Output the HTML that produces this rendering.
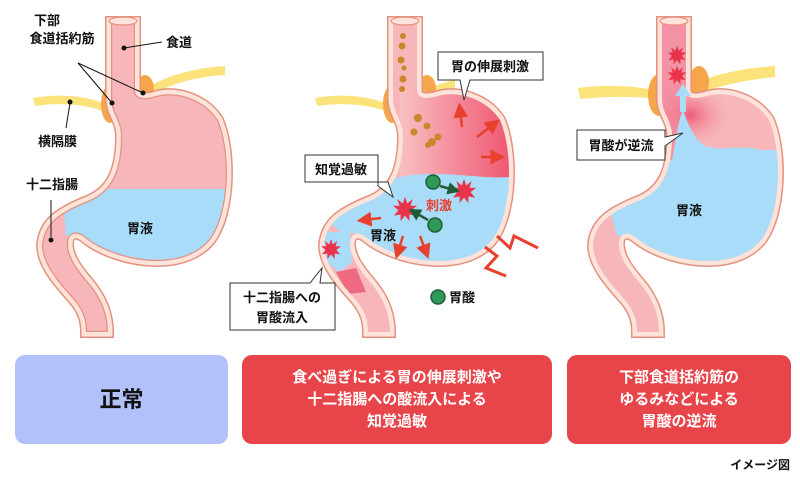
<!DOCTYPE html>
<html><head><meta charset="utf-8"><style>
html,body{margin:0;padding:0;background:#fff;}
body{width:800px;height:480px;overflow:hidden;position:relative;font-family:"Liberation Sans","Noto Sans CJK JP",sans-serif;}
svg text{font-family:"Liberation Sans","Noto Sans CJK JP",sans-serif;font-weight:bold;}
.box{position:absolute;border-radius:10px;color:#fff;font-weight:bold;text-align:center;display:flex;align-items:center;justify-content:center;font-size:15px;line-height:22px;}
</style></head><body>
<svg width="800" height="480" viewBox="0 0 800 480" style="position:absolute;left:0;top:0">
<defs>
<path id="st" d="M111,22 L111,98 C111,114 121,120 121,136 C121,170 112,190 90,200 C60,212 44,222 42,245 C42,266 62,286 74,300 C84,312 86,322 86,332 L108,332 C108,312 100,296 88,282 C76,268 68,256 68,244 C68,233 76,231 84,237 C114,262 182,274 210,240 C231,212 231,150 218,120 C205,100 178,90 156,96 C146,99 135,100 135,90 L135,22 Z"/>
<clipPath id="c1"><use href="#st"/></clipPath>
<clipPath id="c2"><use href="#st" transform="translate(282,0)"/></clipPath>
<clipPath id="c3"><use href="#st" transform="translate(551,0)"/></clipPath>
<linearGradient id="rg" x1="0" x2="1" y1="0" y2="0"><stop offset="0" stop-color="#f9c0c2"/><stop offset="1" stop-color="#ee4d6a"/></linearGradient>
<radialGradient id="rg3" cx="0.5" cy="0.5" r="0.5"><stop offset="0" stop-color="#ef5a78"/><stop offset="1" stop-color="#f7b7ba" stop-opacity="0"/></radialGradient>
<g id="burst"><polygon points="0,-11 2,-5 7,-9 5,-3 11,-3 6,1 10,6 4,5 4,11 0,6 -4,11 -4,5 -10,6 -6,1 -11,-3 -5,-3 -7,-9 -2,-5" fill="#e8334a"/><circle r="5" fill="#e8334a"/></g>
<marker id="ar" markerWidth="6" markerHeight="6" refX="3" refY="3" orient="auto" markerUnits="strokeWidth"><path d="M0,0 L6,3 L0,6 Z" fill="#e8402f"/></marker>
<marker id="ag" markerWidth="5" markerHeight="5" refX="2.5" refY="2.5" orient="auto" markerUnits="strokeWidth"><path d="M0,0 L5,2.5 L0,5 Z" fill="#1f5e34"/></marker>
</defs>

<!-- PANEL 1 -->
<g>
<path d="M33,98 C60,93 90,96 110,106 L110,114 C90,104 60,102 35,106 Z" fill="#fbe27a"/>
<path d="M140,92 C165,75 195,68 225,66 L225,75 C195,77 165,84 146,100 Z" fill="#fbe27a"/>
<ellipse cx="110" cy="104" rx="9" ry="19" fill="#f6a64a"/>
<ellipse cx="145" cy="89" rx="9" ry="14" fill="#f6a64a"/>
<use href="#st" fill="none" stroke="#e4917f" stroke-width="12"/>
<use href="#st" fill="none" stroke="#fde3d9" stroke-width="9"/>
<use href="#st" fill="#f7b7ba"/>
<g clip-path="url(#c1)"><path d="M62,189 H240 V290 H110 L80,234 L66,236 Z" fill="#a9dcf8"/></g>
<use href="#st" fill="none" stroke="#e4917f" stroke-width="2.4" clip-path="url(#c1)"/>
<ellipse cx="123" cy="21" rx="14" ry="4" fill="#fde3d9" stroke="#e4917f" stroke-width="1.2"/>
<g fill="#111" font-size="13">
<text x="47" y="25" text-anchor="middle">下部</text>
<text x="62" y="43" text-anchor="middle">食道括約筋</text>
<text x="166" y="47">食道</text>
<text x="38" y="146">横隔膜</text>
<text x="26" y="189">十二指腸</text>
<text x="127" y="233">胃液</text>
</g>
<g stroke="#111" stroke-width="1"><line x1="78" y1="63" x2="112" y2="103"/><line x1="78" y1="63" x2="143" y2="93"/><line x1="124" y1="48" x2="162" y2="42"/><line x1="70" y1="103" x2="66" y2="128"/><line x1="51" y1="200" x2="51" y2="237"/></g>
<g fill="#111"><circle cx="112" cy="103" r="2.5"/><circle cx="143" cy="93" r="2.5"/><circle cx="124" cy="48" r="2.5"/><circle cx="70" cy="102" r="2.5"/><circle cx="51" cy="240" r="2.5"/></g>
</g>

<!-- PANEL 2 -->
<g>
<path d="M315,98 C342,93 372,96 392,106 L392,114 C372,104 342,102 317,106 Z" fill="#fbe27a"/>
<path d="M422,92 C435,85 445,82 455,80 L455,89 C445,91 435,94 428,100 Z" fill="#fbe27a"/>
<ellipse cx="392" cy="104" rx="9" ry="19" fill="#f6a64a"/>
<ellipse cx="427" cy="89" rx="9" ry="14" fill="#f6a64a"/>
<use href="#st" transform="translate(282,0)" fill="none" stroke="#e4917f" stroke-width="12"/>
<use href="#st" transform="translate(282,0)" fill="none" stroke="#fde3d9" stroke-width="9"/>
<use href="#st" transform="translate(282,0)" fill="#f7b7ba"/>
<g clip-path="url(#c2)">
<rect x="400" y="90" width="120" height="100" fill="url(#rg)"/>
<path d="M344,200 C370,185 395,174 430,174 C470,174 490,180 520,176 L520,290 L392,290 L362,234 L340,232 L322,215 Z" fill="#a9dcf8"/>
<path d="M320,232 L350,232 L352,262 L340,272 L326,262 Z" fill="#a9dcf8"/>
<path d="M336,272 L356,268 L366,292 L348,294 Z" fill="#ee6a80"/>
</g>
<use href="#st" transform="translate(282,0)" fill="none" stroke="#e4917f" stroke-width="2.4" clip-path="url(#c2)"/>
<ellipse cx="405" cy="21" rx="14" ry="4" fill="#fde3d9" stroke="#e4917f" stroke-width="1.2"/>
<g fill="#c8872a"><circle cx="403" cy="36" r="3"/><circle cx="402" cy="46" r="3.5"/><circle cx="401" cy="60" r="3.5"/><circle cx="404" cy="68" r="2.5"/><circle cx="403" cy="79" r="3.5"/><circle cx="402" cy="89" r="3"/><circle cx="418" cy="118" r="4"/><circle cx="427" cy="126" r="3.5"/><circle cx="414" cy="132" r="3.5"/><circle cx="432" cy="142" r="4"/><circle cx="438" cy="137" r="3.5"/><circle cx="428" cy="145" r="3"/></g>
<g stroke="#e8402f" stroke-width="2.5" fill="none" marker-end="url(#ar)">
<line x1="462" y1="127" x2="460" y2="110"/><line x1="477" y1="137" x2="494" y2="124"/><line x1="481" y1="157" x2="498" y2="157"/>
<line x1="381" y1="218" x2="364" y2="220"/><line x1="403" y1="236" x2="398" y2="252"/><line x1="420" y1="236" x2="426" y2="252"/>
</g>
<use href="#burst" transform="translate(405,209) scale(1.1)"/>
<use href="#burst" transform="translate(464,191) scale(1.1)"/>
<use href="#burst" transform="translate(331,249) scale(0.9)"/>
<g stroke="#1f5e34" stroke-width="2.5" marker-end="url(#ag)"><line x1="440" y1="186" x2="454" y2="190"/><line x1="428" y1="220" x2="414" y2="212"/></g>
<g fill="#2e9a58" stroke="#1f5e34" stroke-width="1.5"><circle cx="433" cy="182" r="7"/><circle cx="435" cy="225" r="7"/><circle cx="438" cy="297" r="7"/></g>
<text x="426" y="210" font-size="13" fill="#e8402f">刺激</text>
<text x="370" y="240" font-size="13" fill="#111">胃液</text>
<text x="449" y="302" font-size="13" fill="#111">胃酸</text>
<polyline points="497,236 510,248 514,236 538,248" fill="none" stroke="#e8402f" stroke-width="3"/>
<polyline points="485,247 497,256 486,268 506,276" fill="none" stroke="#e8402f" stroke-width="3"/>
<g fill="#fff" stroke="#333" stroke-width="1">
<path d="M438,52 H543 V80 H470 L464,100 L460,80 H438 Z"/>
<path d="M305,155 H378 V182 H388 L393,197 L378,186 V182 H305 Z"/>
<path d="M230,283 H310 L322,268 L320,283 H335 V330 H230 Z"/>
</g>
<g fill="#111" font-size="13">
<text x="490" y="71" text-anchor="middle">胃の伸展刺激</text>
<text x="341" y="174" text-anchor="middle">知覚過敏</text>
<text x="282" y="302" text-anchor="middle">十二指腸への</text>
<text x="282" y="322" text-anchor="middle">胃酸流入</text>
</g>
</g>

<!-- PANEL 3 -->
<g>
<path d="M578,88 C610,84 640,86 662,92 L662,100 C640,96 610,96 580,99 Z" fill="#fbe27a"/>
<path d="M692,84 C715,74 745,68 775,66 L775,77 C745,80 715,86 695,96 Z" fill="#fbe27a"/>
<ellipse cx="659" cy="95" rx="11" ry="21" fill="#f6a64a"/>
<ellipse cx="699" cy="82" rx="10" ry="16" fill="#f6a64a"/>
<use href="#st" transform="translate(551,0)" fill="none" stroke="#e4917f" stroke-width="12"/>
<use href="#st" transform="translate(551,0)" fill="none" stroke="#fde3d9" stroke-width="9"/>
<use href="#st" transform="translate(551,0)" fill="#f7b7ba"/>
<g clip-path="url(#c3)">
<ellipse cx="690" cy="115" rx="45" ry="35" fill="url(#rg3)"/>
<rect x="662" y="20" width="24" height="140" fill="#f07a92" opacity="0.6"/>
<path d="M683,110 C688,125 695,140 705,146 C725,152 740,144 760,150 L790,150 L790,290 L661,290 L631,234 L617,236 L610,210 L672,160 C676,140 678,120 683,110 Z" fill="#a9dcf8"/>
</g>
<use href="#st" transform="translate(551,0)" fill="none" stroke="#e4917f" stroke-width="2.4" clip-path="url(#c3)"/>
<path d="M680,112 L680,96 L675,96 L683,84 L691,96 L686,96 L686,112 Z" fill="#a9dcf8"/>
<ellipse cx="674" cy="21" rx="14" ry="4" fill="#fde3d9" stroke="#e4917f" stroke-width="1.2"/>
<use href="#burst" transform="translate(677,55) scale(0.85)"/>
<use href="#burst" transform="translate(677,75) scale(0.85)"/>
<text x="689" y="215" font-size="13" fill="#111" text-anchor="middle">胃液</text>
<path d="M577,130 H665 V137 L683,133 L665,146 V160 H577 Z" fill="#fff" stroke="#333" stroke-width="1"/>
<text x="621" y="150" font-size="13" fill="#111" text-anchor="middle">胃酸が逆流</text>
</g>

<text x="790" y="469" font-size="12" fill="#111" text-anchor="end">イメージ図</text>
</svg>
<div class="box" style="left:15px;top:355px;width:213px;height:89px;background:#b3c1fb;color:#111;font-size:22px;">正常</div>
<div class="box" style="left:242px;top:355px;width:310px;height:89px;background:#e8454b;">食べ過ぎによる胃の伸展刺激や<br>十二指腸への酸流入による<br>知覚過敏</div>
<div class="box" style="left:567px;top:355px;width:224px;height:89px;background:#e8454b;">下部食道括約筋の<br>ゆるみなどによる<br>胃酸の逆流</div>
</body></html>
